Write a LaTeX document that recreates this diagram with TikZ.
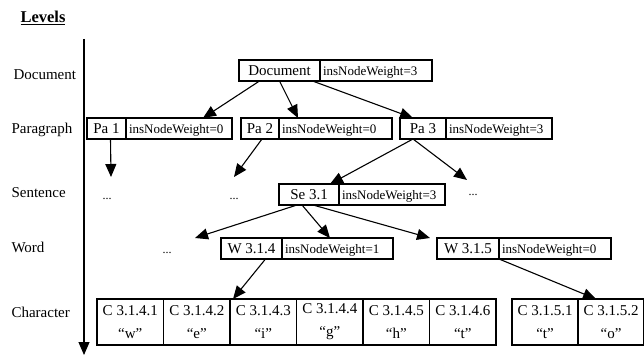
\documentclass[tikz,border=0pt]{standalone}
\usepackage{fontspec}
\setmainfont{Liberation Serif}
\usetikzlibrary{arrows.meta}

\tikzset{
  box/.style={draw, line width=1.1pt, outer sep=0pt, anchor=north west, minimum height=21pt,
    inner xsep=2pt, inner ysep=0pt, text height=12.5pt, text depth=2pt, font=\fontsize{15}{18}\selectfont},
  wbox/.style={box, text width=#1, align=left, inner xsep=3pt, font=\fontsize{13}{16}\selectfont},
  chr/.style={draw, line width=1.1pt, outer sep=0pt, anchor=north west, minimum width=66.5pt,
    minimum height=46pt, inner sep=0pt, align=center, font=\fontsize{15}{23}\selectfont},
  lvl/.style={anchor=base west, font=\fontsize{15}{18}\selectfont},
  dots/.style={anchor=base, font=\fontsize{12}{14}\selectfont},
  arr/.style={-{Triangle[length=13pt,width=11pt]}, line width=1.1pt},
}

\begin{document}
\begin{tikzpicture}[x=1pt, y=-1pt]
\useasboundingbox (0,0) rectangle (644,355);

\node[anchor=base west, font=\fontsize{16.5}{18}\selectfont\bfseries] (lev) at (17,23) {\underline{Levels}};
\coordinate (axtop) at (84,39);
\coordinate (axbot) at (84,355);
\draw[arr] (axtop) -- (axbot);

\node[lvl] (ldoc) at (10,80) {Document};
\node[lvl] (lpar) at (8,134) {Paragraph};
\node[lvl] (lsen) at (8,197) {Sentence};
\node[lvl] (lwor) at (8,252) {Word};
\node[lvl] (lchr) at (8,317) {Character};

% document level
\node[box, minimum width=81pt] (doc) at (239,60) {Document};
\node[wbox=106pt] (docw) at (doc.north east) {insNodeWeight=3};

% paragraph level
\node[box, minimum width=39pt] (pa1) at (87,118) {Pa 1};
\node[wbox=100pt] (pa1w) at (pa1.north east) {insNodeWeight=0};
\node[box, minimum width=38pt] (pa2) at (241,118) {Pa 2};
\node[wbox=107pt] (pa2w) at (pa2.north east) {insNodeWeight=0};
\node[box, minimum width=46pt] (pa3) at (400,118) {Pa 3};
\node[wbox=100pt] (pa3w) at (pa3.north east) {insNodeWeight=3};

% sentence level
\node[dots] (d1) at (107,200) {...};
\node[dots] (d2) at (234,200) {...};
\node[box, minimum width=60pt] (se) at (279,184) {Se 3.1};
\node[wbox=100pt] (sew) at (se.north east) {insNodeWeight=3};
\node[dots] (d3) at (473,196) {...};

% word level
\node[dots] (d4) at (167,253) {...};
\node[box, minimum width=61pt] (w4) at (221,238) {W 3.1.4};
\node[wbox=105pt] (w4w) at (w4.north east) {insNodeWeight=1};
\node[box, minimum width=62pt] (w5) at (437,238) {W 3.1.5};
\node[wbox=106pt] (w5w) at (w5.north east) {insNodeWeight=0};

% character level
\node[chr] (c1) at (97,299) {C 3.1.4.1\\“w”};
\node[chr] (c2) at (c1.north east) {C 3.1.4.2\\“e”};
\node[chr] (c3) at (c2.north east) {C 3.1.4.3\\“i”};
\node[chr] (c4) at (c3.north east) {C 3.1.4.4\\“g”};
\node[chr] (c5) at (c4.north east) {C 3.1.4.5\\“h”};
\node[chr] (c6) at (c5.north east) {C 3.1.4.6\\“t”};
\node[chr, minimum width=66pt] (c51) at (512,299) {C 3.1.5.1\\“t”};
\node[chr, minimum width=66pt] (c52) at (c51.north east) {C 3.1.5.2\\“o”};

% free ends
\coordinate (t1) at (111,177);
\coordinate (t2) at (234,177);
\coordinate (t3) at (467,180);
\coordinate (t4) at (195,238);

\draw[arr] ([xshift=-20pt]doc.south) -- ([xshift=24pt]pa1w.north);
\draw[arr] (doc.south) -- ([xshift=19pt]pa2w.north west);
\draw[arr] ([xshift=33pt]doc.south) -- ([xshift=-10pt]pa3.north);
\draw[arr] ([xshift=4pt]pa1.south) -- (t1);
\draw[arr] ([xshift=2pt]pa2.south) -- (t2);
\draw[arr] ([xshift=-10pt]pa3.south) -- ([xshift=21pt]se.north);
\draw[arr] ([xshift=-10pt]pa3.south) -- (t3);
\draw[arr] ([xshift=-12pt]se.south) -- (t4);
\draw[arr] ([xshift=-7pt]se.south) -- ([xshift=48pt]w4w.north west);
\draw[arr] ([xshift=4pt]se.south) -- ([xshift=-7pt]w5.north west);
\draw[arr] ([xshift=14pt]w4.south) -- ([xshift=3pt]c3.north west);
\draw[arr] (w5.south east) -- ([xshift=-15pt]c52.north);
\end{tikzpicture}
\end{document}
